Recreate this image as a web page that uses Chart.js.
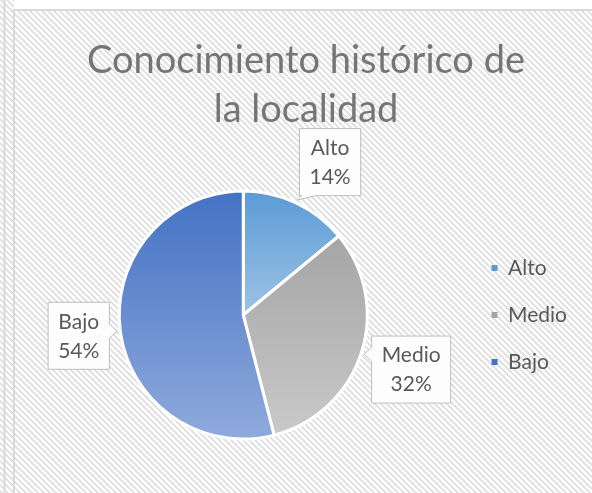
<!DOCTYPE html>
<html lang="es">
<head>
    <meta charset="UTF-8">
    <meta name="viewport" content="width=device-width, initial-scale=1.0">
    <title>Conocimiento histórico de la localidad</title>
    <script src="https://cdn.jsdelivr.net/npm/chart.js"></script>
    <style>
        * {
            margin: 0;
            padding: 0;
            box-sizing: border-box;
        }
        html, body {
            width: 592px;
            height: 493px;
            overflow: hidden;
            background-color: #fff;
        }
        .chart-box {
            position: relative;
            width: 592px;
            height: 493px;
        }
    </style>
</head>
<body>
    <div class="chart-box">
        <canvas id="pieChart"></canvas>
    </div>

    <script>
        // datos de la encuesta
        const categories = ['Alto', 'Medio', 'Bajo'];
        const percentages = [14, 32, 54];
        const titleLines = ['Conocimiento histórico de', 'la localidad'];

        // colores: tono superior e inferior del degradado de cada sector
        const topColors = ['#5b9bd5', '#a5a5a5', '#4472c4'];
        const bottomColors = ['#9dc3e6', '#c9c9c9', '#8faadc'];

        const PIE_RADIUS = 124;
        const FONT = 'Lato, "Open Sans", sans-serif';

        // degradado vertical que cubre solo la altura del sector
        function sliceGradient(context) {
            const i = context.dataIndex;
            const chart = context.chart;
            const area = chart.chartArea;
            if (!area || i === undefined) return topColors[i] || topColors[0];
            const data = context.dataset.data;
            const total = data.reduce((a, b) => a + b, 0);
            let before = 0;
            for (let k = 0; k < i; k++) before += data[k];
            const a0 = before / total * 2 * Math.PI - Math.PI / 2;
            const a1 = (before + data[i]) / total * 2 * Math.PI - Math.PI / 2;
            const cy = (area.top + area.bottom) / 2;
            const ys = [cy, cy + PIE_RADIUS * Math.sin(a0), cy + PIE_RADIUS * Math.sin(a1)];
            [Math.PI / 2, 3 * Math.PI / 2].forEach(a => {
                if (a > a0 && a < a1) ys.push(cy + PIE_RADIUS * Math.sin(a));
            });
            const g = chart.ctx.createLinearGradient(0, Math.min(...ys), 0, Math.max(...ys));
            g.addColorStop(0, topColors[i]);
            g.addColorStop(1, bottomColors[i]);
            return g;
        }

        // trama diagonal del fondo
        function makeHatch(ctx) {
            const size = 6;
            const c = document.createElement('canvas');
            c.width = size;
            c.height = size;
            const p = c.getContext('2d');
            p.fillStyle = '#ffffff';
            p.fillRect(0, 0, size, size);
            p.fillStyle = '#e3e3e3';
            for (let y = 0; y < size; y++) {
                for (let x = 0; x < size; x++) {
                    if ((((x - y) % size) + size) % size < 3) p.fillRect(x, y, 1, 1);
                }
            }
            return ctx.createPattern(c, 'repeat');
        }

        const framePlugin = {
            id: 'frame',
            beforeDraw(chart) {
                const {ctx, width, height} = chart;
                ctx.save();
                ctx.fillStyle = makeHatch(ctx);
                ctx.fillRect(0, 0, width, height);
                ctx.fillStyle = '#ffffff';
                ctx.fillRect(14, 0, width, 10);
                ctx.strokeStyle = '#d9d9d9';
                ctx.lineWidth = 2;
                ctx.beginPath();
                ctx.moveTo(4.5, 0);
                ctx.lineTo(4.5, height);
                ctx.moveTo(14, 10);
                ctx.lineTo(14, height);
                ctx.moveTo(13, 10);
                ctx.lineTo(width, 10);
                ctx.stroke();
                ctx.restore();
            }
        };

        // centra el titulo sobre todo el marco del grafico
        const titleShiftPlugin = {
            id: 'titleShift',
            afterLayout(chart) {
                if (chart.titleBlock) chart.titleBlock.left += 14;
            }
        };

        // etiquetas con globo (nombre + porcentaje)
        const calloutPlugin = {
            id: 'callouts',
            afterDatasetsDraw(chart) {
                const ctx = chart.ctx;
                const meta = chart.getDatasetMeta(0);
                const data = chart.data.datasets[0].data;
                const total = data.reduce((a, b) => a + b, 0);
                const clamp = (v, lo, hi) => Math.max(lo, Math.min(hi, v));
                ctx.save();
                ctx.font = '21px ' + FONT;
                meta.data.forEach((arc, i) => {
                    const {x, y, startAngle, endAngle, outerRadius} =
                        arc.getProps(['x', 'y', 'startAngle', 'endAngle', 'outerRadius'], true);
                    const mid = (startAngle + endAngle) / 2;
                    const ux = Math.cos(mid);
                    const uy = Math.sin(mid);
                    const lines = [categories[i], Math.round(data[i] / total * 100) + '%'];
                    const w = Math.max(...lines.map(t => ctx.measureText(t).width)) + 20;
                    const h = 67;
                    const hw = w / 2;
                    const hh = h / 2;
                    const sideHit = Math.abs(ux) * hh > Math.abs(uy) * hw;

                    let cx, cy;
                    if (sideHit) {
                        // el radio medio toca un lado vertical de la caja
                        const edge = hw / Math.abs(ux);
                        const dist = outerRadius + 11 + edge;
                        cx = x + ux * dist;
                        cy = y + uy * dist;
                    } else {
                        // sector estrecho arriba/abajo: la esquina queda sobre el radio
                        const dist = outerRadius + 8;
                        cx = x + ux * dist + Math.sign(ux) * hw;
                        cy = y + uy * dist + Math.sign(uy) * hh;
                    }
                    const left = cx - hw, right = cx + hw, top = cy - hh, bottom = cy + hh;

                    const tip = {x: x + ux * (outerRadius + 3), y: y + uy * (outerRadius + 3)};
                    const pts = [[left, top], [right, top]];
                    if (sideHit && ux < 0) {
                        const m = clamp(tip.y, top + 8, bottom - 8);
                        pts.push([right, m - 7], [tip.x, tip.y], [right, m + 7]);
                    }
                    pts.push([right, bottom]);
                    if (!sideHit && uy < 0) {
                        const m = clamp(tip.x, left + 9, right - 9);
                        pts.push([m + 7, bottom], [tip.x, tip.y], [m - 7, bottom]);
                    }
                    pts.push([left, bottom]);
                    if (sideHit && ux > 0) {
                        const m = clamp(tip.y, top + 8, bottom - 8);
                        pts.push([left, m + 7], [tip.x, tip.y], [left, m - 7]);
                    }

                    ctx.beginPath();
                    ctx.moveTo(pts[0][0], pts[0][1]);
                    for (let k = 1; k < pts.length; k++) ctx.lineTo(pts[k][0], pts[k][1]);
                    ctx.closePath();
                    ctx.fillStyle = 'rgba(255, 255, 255, 0.88)';
                    ctx.fill();
                    ctx.strokeStyle = '#bfbfbf';
                    ctx.lineWidth = 1;
                    ctx.stroke();

                    ctx.fillStyle = '#595959';
                    ctx.textAlign = 'center';
                    ctx.textBaseline = 'middle';
                    ctx.fillText(lines[0], cx, cy - 14);
                    ctx.fillText(lines[1], cx, cy + 15);
                });
                ctx.restore();
            }
        };

        function createPieChart() {
            const ctx = document.getElementById('pieChart').getContext('2d');

            new Chart(ctx, {
                type: 'pie',
                data: {
                    labels: categories,
                    datasets: [{
                        data: percentages,
                        backgroundColor: sliceGradient,
                        borderColor: '#ffffff',
                        borderWidth: 3,
                        hoverOffset: 0,
                        radius: PIE_RADIUS
                    }]
                },
                options: {
                    responsive: true,
                    maintainAspectRatio: false,
                    animation: false,
                    events: [],
                    layout: {
                        padding: {left: 21, right: 15, top: 10, bottom: 8}
                    },
                    plugins: {
                        title: {
                            display: true,
                            text: titleLines,
                            color: '#757575',
                            font: {family: FONT, size: 38, weight: 'normal', lineHeight: 1.29},
                            padding: {top: 26, bottom: 11}
                        },
                        legend: {
                            position: 'right',
                            fullSize: false,
                            labels: {
                                boxWidth: 6,
                                boxHeight: 6,
                                padding: 26,
                                color: '#595959',
                                font: {family: FONT, size: 21},
                                generateLabels(chart) {
                                    const items = Chart.overrides.doughnut.plugins.legend.labels.generateLabels(chart);
                                    items.forEach((item, i) => {
                                        item.fillStyle = topColors[i];
                                        item.strokeStyle = topColors[i];
                                        item.lineWidth = 0;
                                    });
                                    return items;
                                }
                            }
                        },
                        tooltip: {enabled: false}
                    }
                },
                plugins: [framePlugin, titleShiftPlugin, calloutPlugin]
            });
        }

        window.onload = createPieChart;
    </script>
</body>
</html>
